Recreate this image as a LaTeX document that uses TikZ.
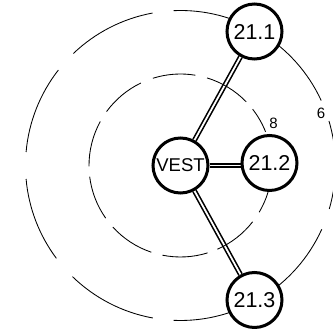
\documentclass[tikz,border=0pt]{standalone}
\usepackage{fontspec}
\setmainfont{Liberation Sans}
\usetikzlibrary{backgrounds}
\begin{document}
\begin{tikzpicture}[x=1pt,y=1pt,
  stn/.style={circle,draw,line width=3pt,fill=white,minimum size=55pt,inner sep=0pt,font=\fontsize{21.5}{21.5}\selectfont},
  link/.style={double,line width=1.6pt,double distance=1.8pt},
  ring/.style={line width=0.85pt},
  lbl/.style={font=\fontsize{15}{15}\selectfont,inner sep=0pt}]
\useasboundingbox (0,0) rectangle (333,329);
\clip (0,0) rectangle (333,329);
\coordinate (c) at (180.5,163.5);
\node[stn] (vest) at (180.5,163.5) {\fontsize{18.5}{18.5}\selectfont VEST};
\node[stn] (n1) at (254.5,297.5) {21.1};
\node[stn] (n2) at (269.5,166) {21.2};
\node[stn] (n3) at (254.5,29) {21.3};
\node[lbl] (l6) at (321,216) {6};
\node[lbl] (l8) at (273.5,205.5) {8};
\begin{scope}[on background layer]
\draw[link] (vest) -- (n1);
\draw[link] (vest) -- (vest -| n2);
\draw[link] (vest) -- (n3);
\foreach \a/\b in {100.4/133.7, 142/175, 185/216.8, 225.8/259.7, 267.5/335.7, 343.7/376.7, 24.8/92.5}
  \draw[ring] (c) ++(\a:155) arc[start angle=\a,end angle=\b,radius=155];
\foreach \a/\b in {329.3/350, 293.8/322, 258.6/287.2, 222.3/251.4, 187/215.1, 151.2/180.6, 115.7/143.9, 80.6/107.6, 44.1/73.1, 21.6/38}
  \draw[ring] (c) ++(\a:91.5) arc[start angle=\a,end angle=\b,radius=91.5];
\end{scope}
\end{tikzpicture}
\end{document}
